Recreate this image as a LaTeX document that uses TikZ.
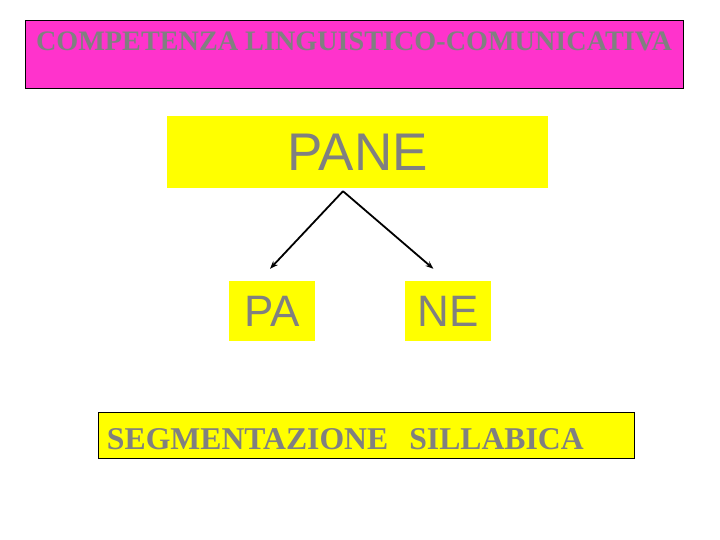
\documentclass[tikz,border=0pt]{standalone}
\usepackage{fontspec}
\setmainfont{Liberation Serif}
\newfontfamily\arialfont{Liberation Sans}
\usetikzlibrary{arrows.meta,positioning,calc}
\definecolor{pinkfill}{HTML}{FF33CC}
\definecolor{textgray}{HTML}{808080}
\definecolor{yellowfill}{HTML}{FFFF00}

\begin{document}
\begin{tikzpicture}[x=1bp, y=-1bp,
    yellowbox/.style={rectangle, fill=yellowfill, inner sep=0pt, text=textgray},
    splitarrow/.style={-{Stealth[length=8bp,width=6bp]}, line width=1.8bp}]
        \useasboundingbox (0,0) rectangle (720,540);

        \node[rectangle, draw=black, line width=0.9bp, fill=pinkfill, inner sep=0pt,
              minimum width=658bp, text height=31bp, text depth=37bp, text=textgray,
              font=\fontsize{28.2bp}{30bp}\selectfont\bfseries] (title) at (354,54) {COMPETENZA LINGUISTICO-COMUNICATIVA};

        \node[yellowbox, minimum width=381bp, minimum height=72bp,
              font=\arialfont\fontsize{53bp}{56bp}\selectfont] (pane) at (357.5,152) {PANE};
        \node[yellowbox, minimum width=86bp, minimum height=60bp,
              font=\arialfont\fontsize{44bp}{46bp}\selectfont] (pa) at (272,311) {PA};
        \node[yellowbox, right=90bp of pa, minimum width=86bp, minimum height=60bp,
              font=\arialfont\fontsize{44bp}{46bp}\selectfont] (ne) {NE};

        % the two arrows leave from one point just under PANE
        \coordinate (fork) at ($(pane.south)+(-14.5,3)$);
        \draw[splitarrow] (fork) -- ($(pa.north)+(-2,-12)$);
        \draw[splitarrow] (fork) -- ($(ne.north)+(-15,-12)$);

        \node[rectangle, draw=black, line width=0.9bp, fill=yellowfill, inner xsep=9bp, inner ysep=0pt,
              text width=518bp, align=left, text height=37.5bp, text depth=8.5bp, text=textgray,
              font=\fontsize{31.7bp}{36bp}\selectfont\bfseries] (seg) at (366,435) {SEGMENTAZIONE\ \ SILLABICA};
      \end{tikzpicture}
\end{document}
